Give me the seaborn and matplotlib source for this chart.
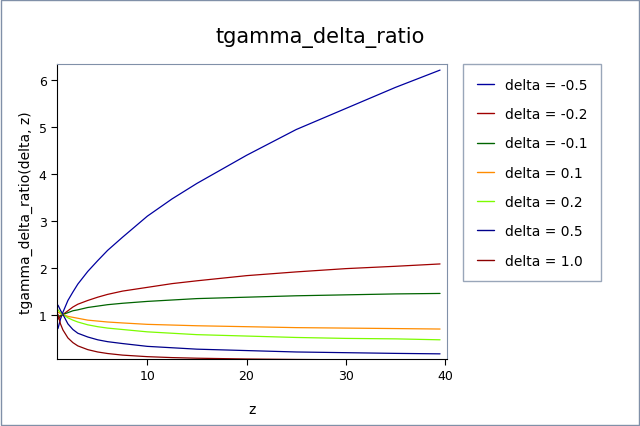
import matplotlib
matplotlib.use("Agg")
import matplotlib.pyplot as plt
import seaborn as sns
import pandas as pd

z = [1, 1.25, 1.5, 2, 2.5, 3, 4, 5, 6, 7.5, 10, 12.5, 15, 20, 25, 30, 35, 39.5]
labels = ["delta = -0.5", "delta = -0.2", "delta = -0.1", "delta = 0.1",
          "delta = 0.2", "delta = 0.5", "delta = 1.0"]
d_m05 = [0.7, 0.9, 1.05, 1.3, 1.48, 1.65, 1.92, 2.15, 2.37, 2.65, 3.1, 3.47, 3.8, 4.4, 4.95, 5.4, 5.85, 6.22]
d_m02 = [0.9, 0.96, 1.0, 1.08, 1.16, 1.22, 1.3, 1.37, 1.43, 1.5, 1.58, 1.66, 1.72, 1.83, 1.91, 1.98, 2.03, 2.08]
d_m01 = [0.95, 0.98, 1.0, 1.04, 1.08, 1.1, 1.15, 1.18, 1.21, 1.24, 1.28, 1.31, 1.34, 1.37, 1.4, 1.42, 1.44, 1.45]
d_01 = [1.05, 1.02, 1.0, 0.96, 0.94, 0.92, 0.88, 0.86, 0.84, 0.82, 0.79, 0.775, 0.76, 0.74, 0.72, 0.71, 0.70, 0.69]
d_02 = [1.1, 1.04, 1.0, 0.93, 0.88, 0.84, 0.78, 0.74, 0.71, 0.68, 0.63, 0.6, 0.57, 0.54, 0.51, 0.49, 0.48, 0.46]
d_05 = [1.2, 1.09, 1.0, 0.8, 0.68, 0.6, 0.52, 0.46, 0.42, 0.38, 0.32, 0.29, 0.26, 0.23, 0.2, 0.185, 0.17, 0.16]
d_10 = [1.0, 0.8, 0.67, 0.5, 0.4, 0.33, 0.25, 0.2, 0.167, 0.133, 0.1, 0.08, 0.067, 0.05, 0.04, 0.033, 0.029, 0.025]
series = [d_m05, d_m02, d_m01, d_01, d_02, d_05, d_10]
colors = ["#0000a0", "#a00000", "#006400", "#ff8c00", "#7cfc00", "#00008b", "#8b0000"]

rows = []
for lab, vals in zip(labels, series):
    for zz, v in zip(z, vals):
        rows.append({"z": zz, "val": v, "delta": lab})
df = pd.DataFrame(rows)

sns.set_style("white")
plt.rcParams["text.color"] = "black"
plt.rcParams["axes.labelcolor"] = "black"
plt.rcParams["xtick.color"] = "black"
plt.rcParams["ytick.color"] = "black"
fig = plt.figure(figsize=(6.4, 4.27), dpi=100)
fig.patches.append(plt.Rectangle((0.002, 0.002), 0.996, 0.996, transform=fig.transFigure,
                                 fill=False, edgecolor="#8090a8", linewidth=1))
ax = fig.add_axes([57 / 640, 1 - 360 / 427, 390 / 640, 295 / 427])
sns.lineplot(data=df, x="z", y="val", hue="delta", palette=colors, linewidth=0.9,
             ax=ax, legend=False)
ax.set_xlim(0.9, 40.2)
ax.set_ylim(0.05, 6.35)
ax.set_xticks([10, 20, 30, 40])
ax.set_yticks([1, 2, 3, 4, 5, 6])
ax.tick_params(labelsize=9, length=4, direction="out", bottom=True, left=True)
for s in ax.spines.values():
    s.set_color("#8090a8")
ax.spines["left"].set_color("black")
ax.spines["bottom"].set_color("black")
ax.set_xlabel("z", fontsize=10, labelpad=14)
ax.set_ylabel("tgamma_delta_ratio(delta, z)", fontsize=10)
fig.text(0.5, 1 - 38 / 427, "tgamma_delta_ratio", ha="center", va="center", fontsize=15)

handles = [plt.Line2D([], [], color=c, linewidth=1) for c in colors]
fig.legend(handles, labels, loc="upper left", bbox_to_anchor=(463 / 640, 1 - 65 / 427),
           fontsize=10, frameon=True, fancybox=False, edgecolor="#8090a8",
           handlelength=1.2, labelspacing=1.1, borderpad=1.0, borderaxespad=0)
fig.savefig("out.png", dpi=100)
